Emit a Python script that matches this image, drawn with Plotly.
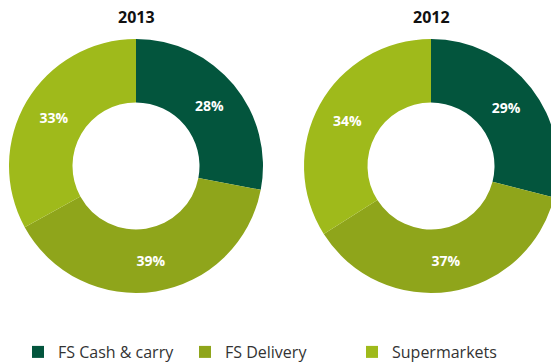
import plotly.graph_objects as go

years = ["2013", "2012"]
segments = ["FS Cash & carry", "FS Delivery", "Supermarkets"]
share_2013 = [28, 39, 33]
share_2012 = [29, 37, 34]
colors = ["#03553d", "#8fa51b", "#9fba1b"]

W, H = 560, 364

def px_dom(x0, x1, y0, y1):
    return dict(x=[x0 / W, x1 / W], y=[1 - y1 / H, 1 - y0 / H])

fig = go.Figure()
for vals, dom in [(share_2013, px_dom(9, 263, 39, 293)),
                  (share_2012, px_dom(304, 558, 39, 293))]:
    fig.add_trace(go.Pie(
        labels=segments, values=vals, hole=0.5, sort=False,
        direction="clockwise", rotation=0,
        marker=dict(colors=colors, line=dict(width=0)),
        textinfo="percent", texttemplate="%{value}%",
        textposition="inside", insidetextorientation="horizontal",
        textfont=dict(family="Open Sans", size=14, color="white", weight="bold"),
        domain=dom, hoverinfo="label+percent",
    ))

for yr, cx in zip(years, [136, 431]):
    fig.add_annotation(text=yr, x=cx / W, y=1 - 17 / H, xref="paper", yref="paper",
                       showarrow=False, xanchor="center", yanchor="middle",
                       font=dict(family="Open Sans", size=16, color="#111111", weight="bold"))

fig.update_layout(
    width=W, height=H, margin=dict(l=0, r=0, t=0, b=0, autoexpand=False),
    paper_bgcolor="white", plot_bgcolor="white",
    showlegend=True,
    legend=dict(orientation="h", x=18 / W, xanchor="left", y=1 - 352 / H, yanchor="middle",
                entrywidth=122, entrywidthmode="pixels",
                font=dict(family="Open Sans", size=16, color="#333333"),
                bgcolor="rgba(0,0,0,0)"),
)

fig.write_html("out.html", post_script="document.documentElement.style.overflow='hidden';document.body.style.overflow='hidden';")
